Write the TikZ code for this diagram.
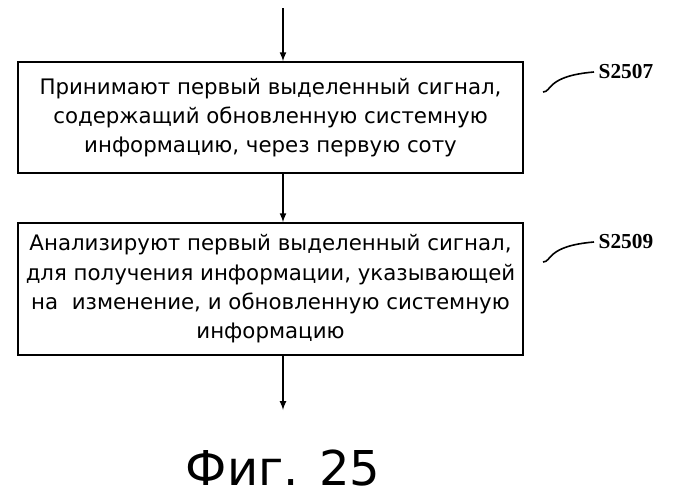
\documentclass[tikz,border=0pt]{standalone}
\usepackage{fontspec}
\setmainfont{DejaVu Sans}
\newfontfamily\labelfont{Liberation Serif}
\usetikzlibrary{positioning}
\tikzset{
  stepbox/.style={draw,line width=1.2pt,minimum width=505*0.75pt,align=center,font=\fontsize{16}{22}\selectfont},
  flow/.style={line width=1.3pt,-latex},
  steplabel/.style={font=\labelfont\bfseries\fontsize{16}{18}\selectfont,anchor=west},
}
\begin{document}
\begin{tikzpicture}[x=0.75pt,y=-0.75pt]
	\useasboundingbox (0,0) rectangle (699,500);
	\node[stepbox,minimum height=111*0.75pt] (box1) at (270.5,117.5) {Принимают первый выделенный сигнал,\\содержащий обновленную системную\\информацию, через первую соту};
	\node[stepbox,minimum height=132*0.75pt] (box2) at (270.5,289) {Анализируют первый выделенный сигнал,\\для получения информации, указывающей\\на\ \ изменение, и обновленную системную\\информацию};
	\coordinate (top) at (283,8);
	\coordinate (bottom) at (283,410);
	\draw[flow] (top) -- (top |- box1.north);
	\draw[flow] (top |- box1.south) -- (top |- box2.north);
	\draw[flow] (top |- box2.south) -- (bottom);
	% step labels
	\node[steplabel] (s1) at (594,72) {S2507};
	\node[steplabel] (s2) at (594,242) {S2509};
	\draw[line width=1.2pt] (543,92) .. controls (552,92) and (546,76) .. (s1.west);
	\draw[line width=1.2pt] (543,262) .. controls (552,262) and (546,246) .. (s2.west);
	\node[font=\fontsize{36}{40}\selectfont] (fig) at (283,468) {Фиг. 25};
\end{tikzpicture}
\end{document}
